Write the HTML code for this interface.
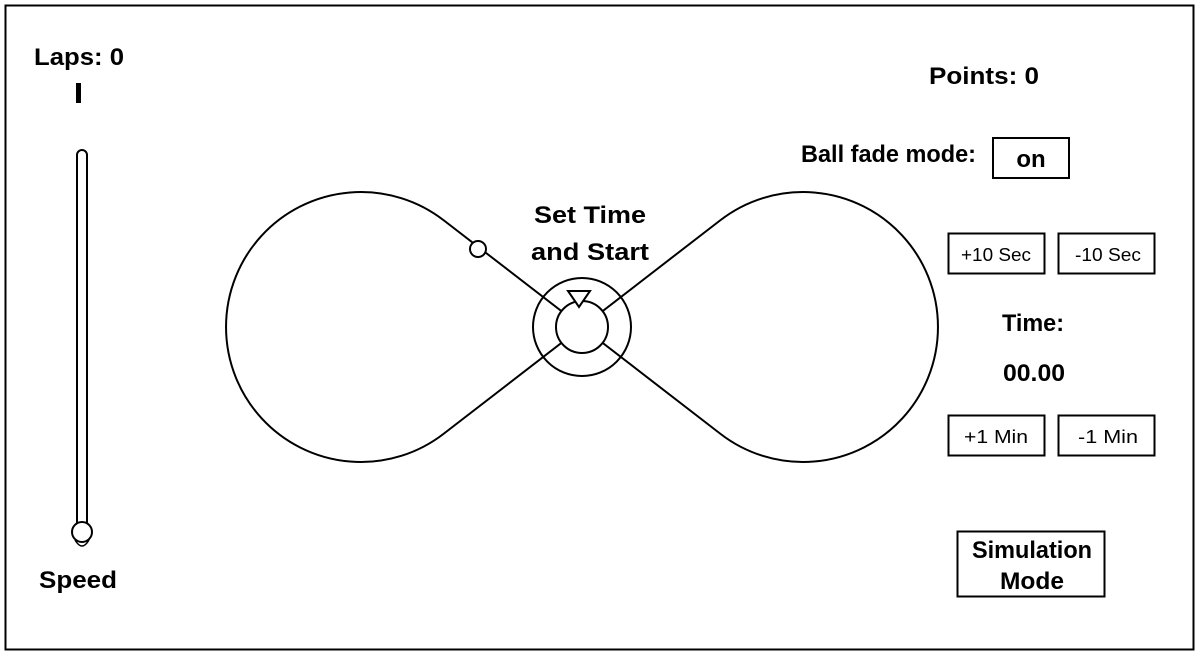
<!DOCTYPE html>
<html><head><meta charset="utf-8"><style>
html,body{margin:0;padding:0;background:#fff;}
svg{display:block;}
text{font-family:"Liberation Sans",sans-serif;fill:#000;}
.b{font-weight:bold;font-size:24px;}
.n{font-size:18px;}
</style></head><body>
<svg width="1200" height="655" viewBox="0 0 1200 655" xmlns="http://www.w3.org/2000/svg">
<rect x="5.5" y="5.5" width="1188" height="644" fill="none" stroke="#000" stroke-width="2"/>
<text class="b" x="79" y="65" text-anchor="middle" textLength="90" lengthAdjust="spacingAndGlyphs">Laps: 0</text>
<rect x="76" y="83" width="5" height="20" fill="#000"/>
<rect x="77" y="150" width="10" height="385" rx="5" fill="none" stroke="#000" stroke-width="2"/>
<path d="M75,540 Q82,552 89,540" fill="#fff" stroke="#000" stroke-width="1.5"/>
<circle cx="82" cy="532" r="10" fill="#fff" stroke="#000" stroke-width="2"/>
<text class="b" x="78" y="588" text-anchor="middle" textLength="78" lengthAdjust="spacingAndGlyphs">Speed</text>

<path d="M444,220.5 L720,433.5 A135,135 0 1 0 720,220.5 L444,433.5 A135,135 0 1 1 444,220.5 Z" fill="none" stroke="#000" stroke-width="2"/>
<circle cx="582" cy="327" r="49" fill="none" stroke="#000" stroke-width="2"/>
<circle cx="582" cy="327" r="26" fill="#fff" stroke="#000" stroke-width="2"/>
<polygon points="568,291 590,291 579,307" fill="#fff" stroke="#000" stroke-width="2"/>
<circle cx="478" cy="249" r="8" fill="#fff" stroke="#000" stroke-width="2"/>
<text class="b" x="590" y="223" text-anchor="middle" textLength="112" lengthAdjust="spacingAndGlyphs">Set Time</text>
<text class="b" x="590" y="260" text-anchor="middle" textLength="118" lengthAdjust="spacingAndGlyphs">and Start</text>

<text class="b" x="984" y="84" text-anchor="middle" textLength="110" lengthAdjust="spacingAndGlyphs">Points: 0</text>
<text class="b" x="801" y="162" font-size="21" textLength="175" lengthAdjust="spacingAndGlyphs">Ball fade mode:</text>
<rect x="993" y="138" width="76" height="40" fill="none" stroke="#000" stroke-width="2"/>
<text class="b" x="1031" y="167" font-size="21" text-anchor="middle">on</text>

<rect x="948.5" y="233.5" width="96" height="40" fill="none" stroke="#000" stroke-width="2"/>
<text class="n" x="996" y="261" text-anchor="middle" textLength="70" lengthAdjust="spacingAndGlyphs">+10 Sec</text>
<rect x="1058.5" y="233.5" width="96" height="40" fill="none" stroke="#000" stroke-width="2"/>
<text class="n" x="1108" y="261" text-anchor="middle" textLength="66" lengthAdjust="spacingAndGlyphs">-10 Sec</text>
<text class="b" x="1033" y="331" font-size="21" text-anchor="middle" textLength="62" lengthAdjust="spacingAndGlyphs">Time:</text>
<text class="b" x="1034" y="381" font-size="22" text-anchor="middle" textLength="62" lengthAdjust="spacingAndGlyphs">00.00</text>
<rect x="948.5" y="415.5" width="96" height="40" fill="none" stroke="#000" stroke-width="2"/>
<text class="n" x="996" y="443" text-anchor="middle" textLength="64" lengthAdjust="spacingAndGlyphs">+1 Min</text>
<rect x="1058.5" y="415.5" width="96" height="40" fill="none" stroke="#000" stroke-width="2"/>
<text class="n" x="1108" y="443" text-anchor="middle" textLength="60" lengthAdjust="spacingAndGlyphs">-1 Min</text>

<rect x="957.5" y="531.5" width="147" height="65" fill="none" stroke="#000" stroke-width="2"/>
<text class="b" x="1032" y="558" text-anchor="middle" textLength="120" lengthAdjust="spacingAndGlyphs">Simulation</text>
<text class="b" x="1032" y="589" text-anchor="middle" textLength="64" lengthAdjust="spacingAndGlyphs">Mode</text>
</svg>
</body></html>
